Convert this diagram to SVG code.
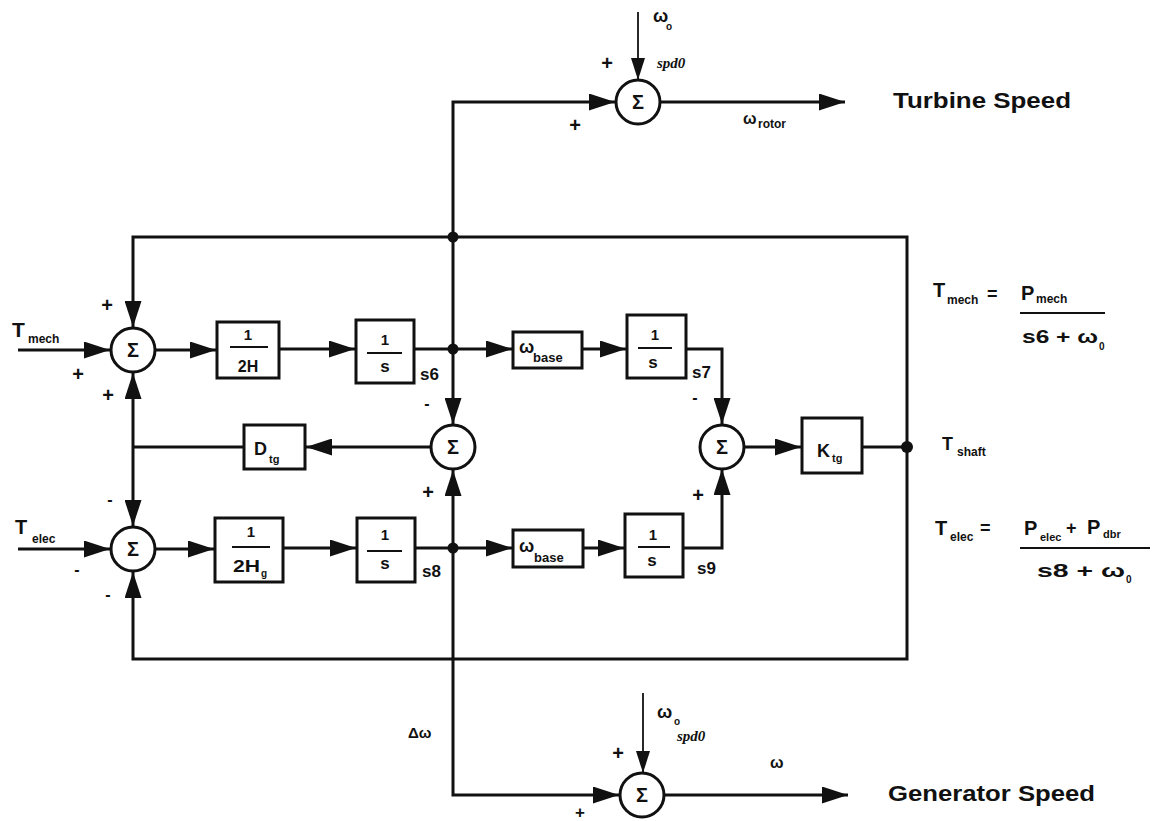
<svg xmlns="http://www.w3.org/2000/svg" width="1152" height="821" viewBox="0 0 1152 821">
<defs>
<style>
.ln{fill:none;stroke:#111;stroke-width:3}
.thin{fill:none;stroke:#111;stroke-width:1.8}
.box{fill:#fff;stroke:#111;stroke-width:3}
.sum{fill:#fff;stroke:#111;stroke-width:3}
.t{font-family:"Liberation Sans",Arial,sans-serif;font-weight:bold;fill:#111}
.it{font-family:"Liberation Serif","Times New Roman",serif;font-style:italic;font-weight:bold;fill:#111}
.fl{stroke:#111;stroke-width:2}
.dot{fill:#111}
</style>
<marker id="arr" markerUnits="userSpaceOnUse" markerWidth="26" markerHeight="17" refX="26" refY="8.5" orient="auto"><path d="M0,0 L26,8.5 L0,17 Z" fill="#111"/></marker>
<marker id="arrs" markerUnits="userSpaceOnUse" markerWidth="22" markerHeight="14" refX="22" refY="7" orient="auto"><path d="M0,0 L22,7 L0,14 Z" fill="#111"/></marker>
</defs>
<rect width="1152" height="821" fill="#fff"/>

<g id="connectors">
<path class="ln" d="M907,447 V237 H133 V327" marker-end="url(#arr)"/>
<path class="ln" d="M907,447 V659 H133 V572" marker-end="url(#arr)"/>
<path class="ln" d="M431,447 H306" marker-end="url(#arr)"/>
<path class="ln" d="M244,447 H133"/>
<path class="ln" d="M133,447 V373" marker-end="url(#arr)"/>
<path class="ln" d="M133,447 V526" marker-end="url(#arr)"/>
<path class="ln" d="M18,350 H110" marker-end="url(#arr)"/>
<path class="ln" d="M18,549 H110" marker-end="url(#arr)"/>
<path class="ln" d="M155,350 H216" marker-end="url(#arr)"/>
<path class="ln" d="M279,349 H355" marker-end="url(#arr)"/>
<path class="ln" d="M414,349 H512" marker-end="url(#arr)"/>
<path class="ln" d="M582,349 H626" marker-end="url(#arr)"/>
<path class="ln" d="M686,349 H722 V424" marker-end="url(#arr)"/>
<path class="ln" d="M155,549 H214" marker-end="url(#arr)"/>
<path class="ln" d="M283,548 H356" marker-end="url(#arr)"/>
<path class="ln" d="M415,548 H512" marker-end="url(#arr)"/>
<path class="ln" d="M583,548 H624" marker-end="url(#arr)"/>
<path class="ln" d="M683,548 H722 V469" marker-end="url(#arr)"/>
<path class="ln" d="M744,447 H801" marker-end="url(#arr)"/>
<path class="ln" d="M862,447 H907"/>
<path class="ln" d="M453,237 V102 H615" marker-end="url(#arr)"/>
<path class="ln" d="M453,237 V424" marker-end="url(#arr)"/>
<path class="ln" d="M453,548 V470" marker-end="url(#arr)"/>
<path class="ln" d="M453,548 V795 H619" marker-end="url(#arr)"/>
<path class="ln" d="M660,102 H845" marker-end="url(#arr)"/>
<path class="ln" d="M665,795 H848" marker-end="url(#arr)"/>
<path class="thin" d="M638,12 V80" marker-end="url(#arrs)"/>
<path class="thin" d="M643,693 V773" marker-end="url(#arrs)"/>
<circle class="dot" cx="453" cy="237" r="5.5"/>
<circle class="dot" cx="453" cy="349" r="5.5"/>
<circle class="dot" cx="453" cy="548" r="5.5"/>
<circle class="dot" cx="907" cy="447" r="6"/>
</g>

<g id="sum_top_left">
<circle class="sum" cx="133" cy="350" r="22"/>
<text class="t" x="133" y="357" font-size="20" text-anchor="middle">Σ</text>
<text class="t" x="107" y="312" font-size="20" text-anchor="middle">+</text>
<text class="t" x="78" y="381" font-size="20" text-anchor="middle">+</text>
<text class="t" x="108" y="402" font-size="20" text-anchor="middle">+</text>
</g>
<g id="sum_bottom_left">
<circle class="sum" cx="133" cy="549" r="22"/>
<text class="t" x="133" y="556" font-size="20" text-anchor="middle">Σ</text>
<text class="t" x="110" y="505" font-size="16" text-anchor="middle">-</text>
<text class="t" x="77" y="575" font-size="16" text-anchor="middle">-</text>
<text class="t" x="108" y="600" font-size="16" text-anchor="middle">-</text>
</g>
<g id="sum_center">
<circle class="sum" cx="453" cy="447" r="22"/>
<text class="t" x="453" y="454" font-size="20" text-anchor="middle">Σ</text>
<text class="t" x="427" y="409" font-size="16" text-anchor="middle">-</text>
<text class="t" x="428" y="499" font-size="20" text-anchor="middle">+</text>
</g>
<g id="sum_right">
<circle class="sum" cx="722" cy="447" r="22"/>
<text class="t" x="722" y="454" font-size="20" text-anchor="middle">Σ</text>
<text class="t" x="695" y="403" font-size="16" text-anchor="middle">-</text>
<text class="t" x="698" y="502" font-size="20" text-anchor="middle">+</text>
</g>
<g id="sum_turbine">
<circle class="sum" cx="638" cy="102" r="22"/>
<text class="t" x="638" y="109" font-size="20" text-anchor="middle">Σ</text>
<text class="t" x="607" y="70" font-size="20" text-anchor="middle">+</text>
<text class="t" x="575" y="132" font-size="20" text-anchor="middle">+</text>
<text class="t" x="653" y="22" font-size="18">ω</text>
<text class="t" x="666" y="30" font-size="10">o</text>
<text class="it" x="657" y="68" font-size="15">spd0</text>
</g>
<g id="sum_generator">
<circle class="sum" cx="642" cy="795" r="22"/>
<text class="t" x="642" y="802" font-size="20" text-anchor="middle">Σ</text>
<text class="t" x="618" y="760" font-size="20" text-anchor="middle">+</text>
<text class="t" x="580" y="818" font-size="17" text-anchor="middle">+</text>
<text class="t" x="657" y="718" font-size="18">ω</text>
<text class="t" x="674" y="725" font-size="10">o</text>
<text class="it" x="677" y="741" font-size="15">spd0</text>
</g>

<g id="box_2H">
<rect class="box" x="217" y="322" width="62" height="56"/>
<text class="t" x="248" y="340" font-size="15" text-anchor="middle">1</text>
<line class="fl" x1="230" y1="347" x2="268" y2="347"/>
<text class="t" x="248" y="372" font-size="16" text-anchor="middle">2H</text>
</g>
<g id="box_int_s6">
<rect class="box" x="356" y="320" width="58" height="63"/>
<text class="t" x="385" y="345" font-size="15" text-anchor="middle">1</text>
<line class="fl" x1="367" y1="353" x2="402" y2="353"/>
<text class="t" x="385" y="372" font-size="17" text-anchor="middle">s</text>
</g>
<g id="box_wbase_top">
<rect class="box" x="513" y="332" width="69" height="36"/>
<text class="t" x="519" y="353" font-size="18">ω</text>
<text class="t" x="533" y="362" font-size="13">base</text>
</g>
<g id="box_int_s7">
<rect class="box" x="627" y="315" width="59" height="63"/>
<text class="t" x="655" y="340" font-size="15" text-anchor="middle">1</text>
<line class="fl" x1="638" y1="348" x2="672" y2="348"/>
<text class="t" x="653" y="368" font-size="17" text-anchor="middle">s</text>
</g>
<g id="box_Dtg">
<rect class="box" x="244" y="425" width="61" height="44"/>
<text class="t" x="254" y="455" font-size="18">D</text>
<text class="t" x="269" y="463" font-size="11">tg</text>
</g>
<g id="box_Ktg">
<rect class="box" x="802" y="418" width="60" height="55"/>
<text class="t" x="817" y="457" font-size="18">K</text>
<text class="t" x="832" y="462" font-size="11">tg</text>
</g>
<g id="box_2Hg">
<rect class="box" x="215" y="518" width="68" height="64"/>
<text class="t" x="251" y="537" font-size="15" text-anchor="middle">1</text>
<line class="fl" x1="232" y1="547" x2="270" y2="547"/>
<text class="t" x="233" y="572" font-size="17" textLength="27" lengthAdjust="spacingAndGlyphs">2H</text>
<text class="t" x="261" y="577" font-size="10">g</text>
</g>
<g id="box_int_s8">
<rect class="box" x="357" y="518" width="58" height="64"/>
<text class="t" x="385" y="540" font-size="15" text-anchor="middle">1</text>
<line class="fl" x1="367" y1="551" x2="402" y2="551"/>
<text class="t" x="385" y="569" font-size="17" text-anchor="middle">s</text>
</g>
<g id="box_wbase_bottom">
<rect class="box" x="513" y="530" width="70" height="37"/>
<text class="t" x="519" y="552" font-size="18">ω</text>
<text class="t" x="534" y="562" font-size="13">base</text>
</g>
<g id="box_int_s9">
<rect class="box" x="625" y="514" width="58" height="63"/>
<text class="t" x="653" y="540" font-size="15" text-anchor="middle">1</text>
<line class="fl" x1="638" y1="547" x2="670" y2="547"/>
<text class="t" x="652" y="566" font-size="17" text-anchor="middle">s</text>
</g>

<g id="labels">
<text class="t" x="12" y="337" font-size="21">T</text>
<text class="t" x="28" y="343" font-size="12">mech</text>
<text class="t" x="15" y="534" font-size="20">T</text>
<text class="t" x="32" y="543" font-size="12">elec</text>
<text class="t" x="420" y="380" font-size="17">s6</text>
<text class="t" x="692" y="378" font-size="17">s7</text>
<text class="t" x="422" y="577" font-size="17">s8</text>
<text class="t" x="697" y="574" font-size="17">s9</text>
<text class="t" x="743" y="124" font-size="16">ω</text>
<text class="t" x="758" y="128" font-size="12">rotor</text>
<text class="t" x="408" y="738" font-size="15">Δω</text>
<text class="t" x="770" y="768" font-size="16">ω</text>
<text class="t" x="893" y="108" font-size="22" textLength="178" lengthAdjust="spacingAndGlyphs">Turbine Speed</text>
<text class="t" x="888" y="801" font-size="22" textLength="207" lengthAdjust="spacingAndGlyphs">Generator Speed</text>
</g>

<g id="eq_mech">
<text class="t" x="933" y="297" font-size="20">T</text>
<text class="t" x="947" y="304" font-size="12">mech</text>
<text class="t" x="987" y="300" font-size="18">=</text>
<text class="t" x="1021" y="300" font-size="20">P</text>
<text class="t" x="1036" y="303" font-size="12">mech</text>
<line class="fl" x1="1020" y1="313" x2="1105" y2="313"/>
<text class="t" x="1022" y="343" font-size="19" textLength="76" lengthAdjust="spacingAndGlyphs">s6 + ω</text>
<text class="t" x="1099" y="350" font-size="10">0</text>
</g>
<g id="eq_shaft">
<text class="t" x="942" y="450" font-size="18">T</text>
<text class="t" x="957" y="456" font-size="12">shaft</text>
</g>
<g id="eq_elec">
<text class="t" x="935" y="535" font-size="20">T</text>
<text class="t" x="950" y="541" font-size="12">elec</text>
<text class="t" x="980" y="534" font-size="18">=</text>
<text class="t" x="1024" y="535" font-size="20">P</text>
<text class="t" x="1040" y="541" font-size="11">elec</text>
<text class="t" x="1066" y="534" font-size="18">+</text>
<text class="t" x="1087" y="534" font-size="20">P</text>
<text class="t" x="1103" y="538" font-size="11">dbr</text>
<line class="fl" x1="1020" y1="548" x2="1150" y2="548"/>
<text class="t" x="1037" y="577" font-size="19" textLength="88" lengthAdjust="spacingAndGlyphs">s8 + ω</text>
<text class="t" x="1126" y="583" font-size="10">0</text>
</g>
</svg>
